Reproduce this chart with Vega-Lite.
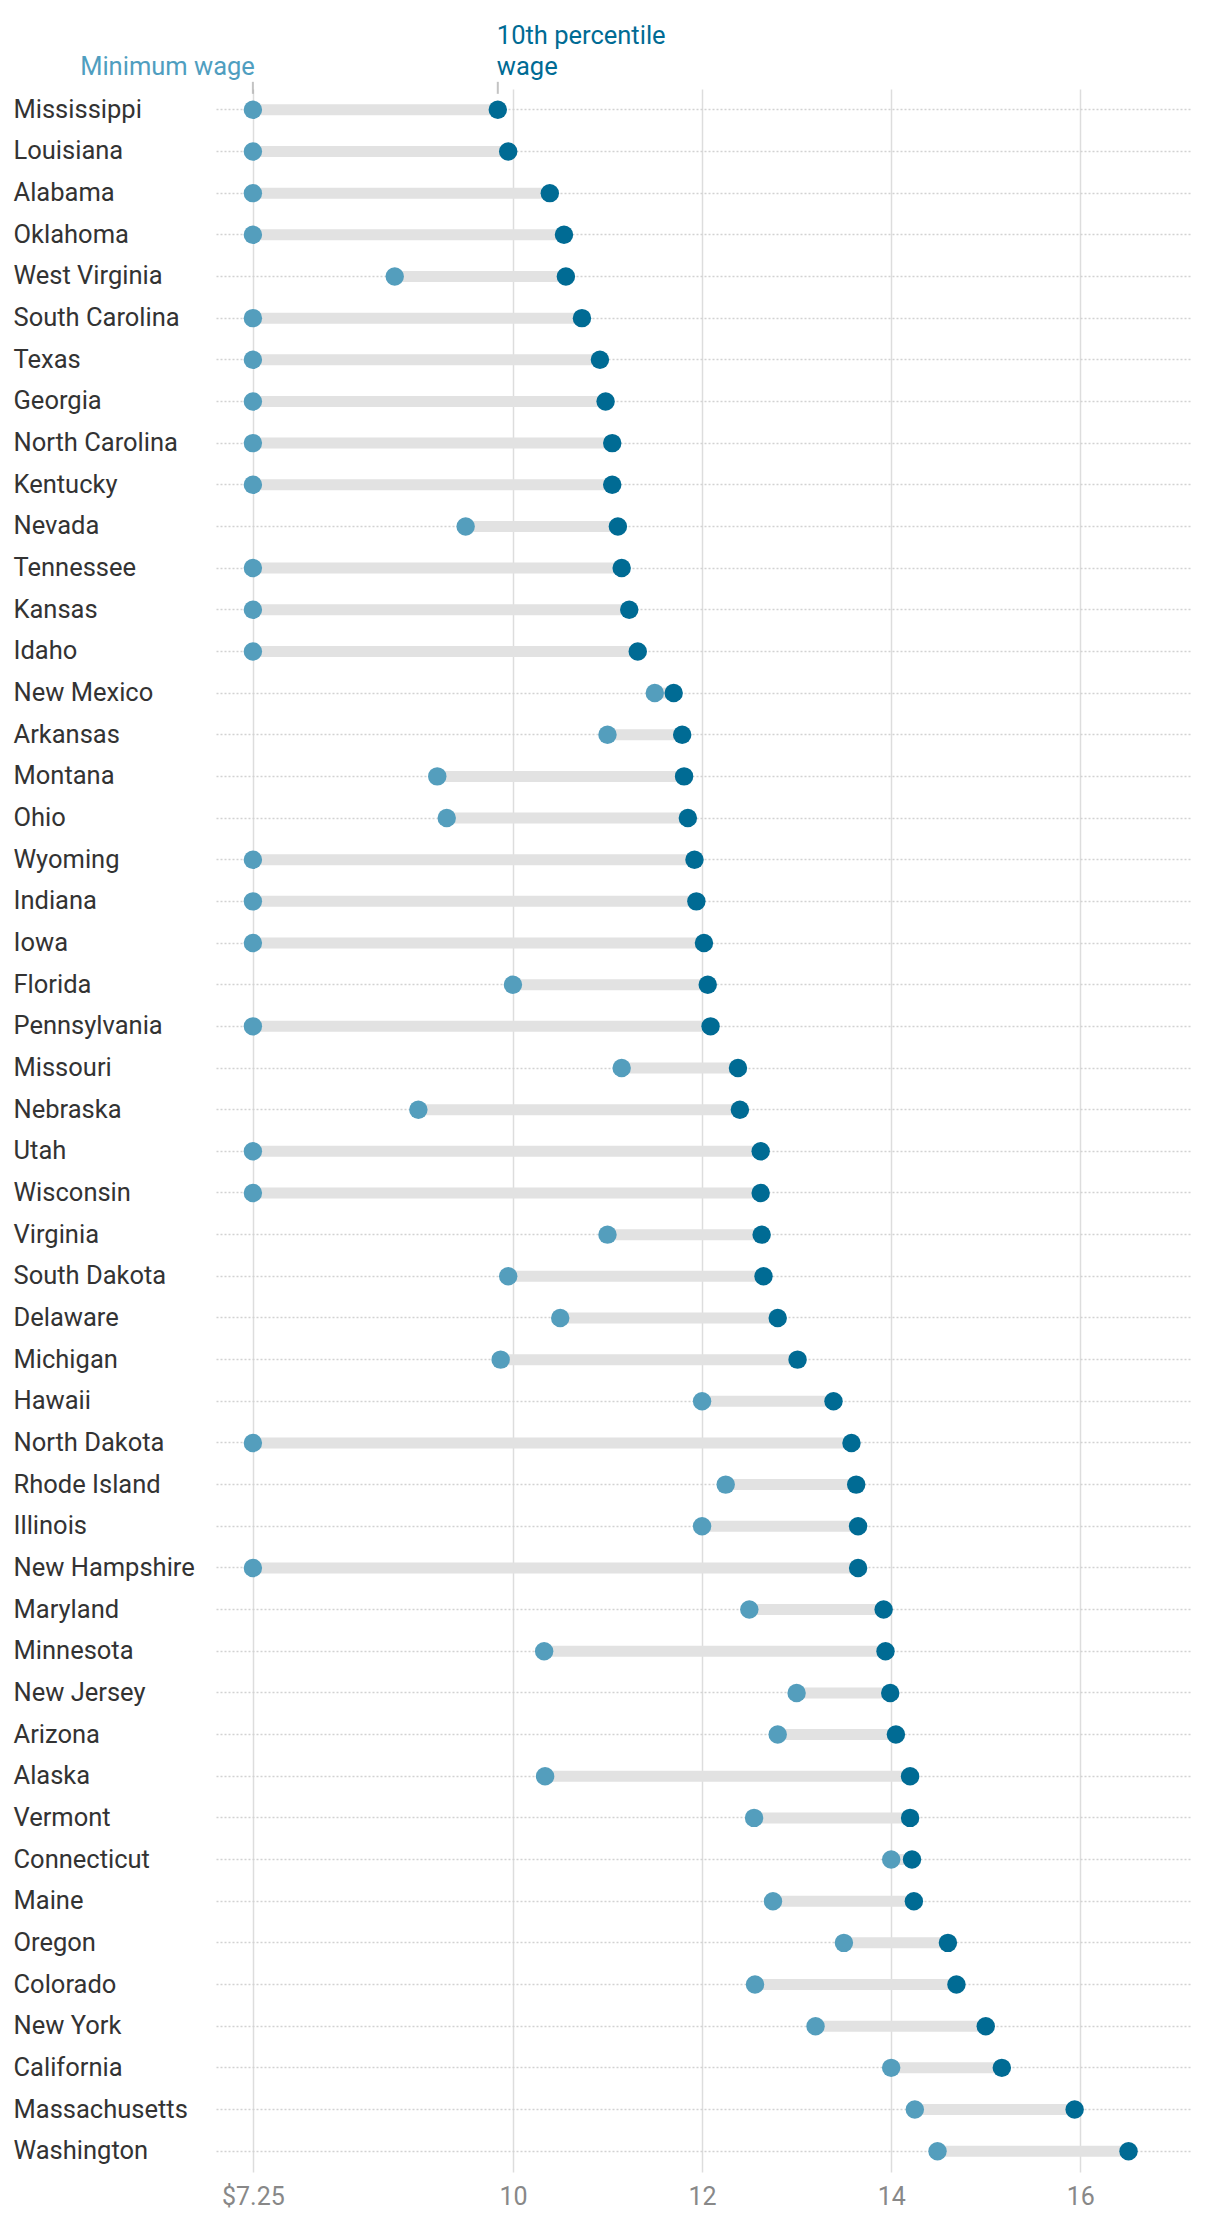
{
  "$schema": "https://vega.github.io/schema/vega-lite/v6.json",
  "width": 974,
  "height": 2083,
  "autosize": {"type": "none"},
  "padding": {"left": 216, "top": 89, "right": 30, "bottom": 44},
  "background": "white",
  "config": {"view": {"stroke": null}, "font": "Roboto"},
  "datasets": {
    "wages": [
      {"state": "Mississippi", "min": 7.25, "p10": 9.84},
      {"state": "Louisiana", "min": 7.25, "p10": 9.95},
      {"state": "Alabama", "min": 7.25, "p10": 10.39},
      {"state": "Oklahoma", "min": 7.25, "p10": 10.54},
      {"state": "West Virginia", "min": 8.75, "p10": 10.56},
      {"state": "South Carolina", "min": 7.25, "p10": 10.73},
      {"state": "Texas", "min": 7.25, "p10": 10.92},
      {"state": "Georgia", "min": 7.25, "p10": 10.98},
      {"state": "North Carolina", "min": 7.25, "p10": 11.05},
      {"state": "Kentucky", "min": 7.25, "p10": 11.05},
      {"state": "Nevada", "min": 9.5, "p10": 11.11},
      {"state": "Tennessee", "min": 7.25, "p10": 11.15},
      {"state": "Kansas", "min": 7.25, "p10": 11.23},
      {"state": "Idaho", "min": 7.25, "p10": 11.32},
      {"state": "New Mexico", "min": 11.5, "p10": 11.7},
      {"state": "Arkansas", "min": 11.0, "p10": 11.79},
      {"state": "Montana", "min": 9.2, "p10": 11.81},
      {"state": "Ohio", "min": 9.3, "p10": 11.85},
      {"state": "Wyoming", "min": 7.25, "p10": 11.92},
      {"state": "Indiana", "min": 7.25, "p10": 11.94},
      {"state": "Iowa", "min": 7.25, "p10": 12.02},
      {"state": "Florida", "min": 10.0, "p10": 12.06},
      {"state": "Pennsylvania", "min": 7.25, "p10": 12.09},
      {"state": "Missouri", "min": 11.15, "p10": 12.38},
      {"state": "Nebraska", "min": 9.0, "p10": 12.4},
      {"state": "Utah", "min": 7.25, "p10": 12.62},
      {"state": "Wisconsin", "min": 7.25, "p10": 12.62},
      {"state": "Virginia", "min": 11.0, "p10": 12.63},
      {"state": "South Dakota", "min": 9.95, "p10": 12.65},
      {"state": "Delaware", "min": 10.5, "p10": 12.8},
      {"state": "Michigan", "min": 9.87, "p10": 13.01},
      {"state": "Hawaii", "min": 12.0, "p10": 13.39},
      {"state": "North Dakota", "min": 7.25, "p10": 13.58},
      {"state": "Rhode Island", "min": 12.25, "p10": 13.63},
      {"state": "Illinois", "min": 12.0, "p10": 13.65},
      {"state": "New Hampshire", "min": 7.25, "p10": 13.65},
      {"state": "Maryland", "min": 12.5, "p10": 13.92},
      {"state": "Minnesota", "min": 10.33, "p10": 13.94},
      {"state": "New Jersey", "min": 13.0, "p10": 13.99},
      {"state": "Arizona", "min": 12.8, "p10": 14.05},
      {"state": "Alaska", "min": 10.34, "p10": 14.2},
      {"state": "Vermont", "min": 12.55, "p10": 14.2},
      {"state": "Connecticut", "min": 14.0, "p10": 14.22},
      {"state": "Maine", "min": 12.75, "p10": 14.24},
      {"state": "Oregon", "min": 13.5, "p10": 14.6},
      {"state": "Colorado", "min": 12.56, "p10": 14.69},
      {"state": "New York", "min": 13.2, "p10": 15.0},
      {"state": "California", "min": 14.0, "p10": 15.17},
      {"state": "Massachusetts", "min": 14.25, "p10": 15.94},
      {"state": "Washington", "min": 14.49, "p10": 16.51}
    ],
    "notes": [
      {"label": "Minimum wage", "x": 7.25, "state": "Mississippi", "kind": "min"},
      {"label": "10th percentile|wage", "x": 9.84, "state": "Mississippi", "kind": "p10"}
    ]
  },
  "layer": [
    {
      "data": {"name": "wages"},
      "mark": {"type": "rule", "strokeWidth": 11, "color": "#e2e2e2"},
      "encoding": {
        "y": {
          "field": "state", "type": "nominal", "sort": null,
          "scale": {"paddingInner": 0, "paddingOuter": 0},
          "axis": {
            "title": null, "domain": false, "ticks": false, "tickSize": 0,
            "labelAlign": "left", "labelPadding": 203, "labelFontSize": 25.5,
            "labelLimit": 0,
            "labelFont": "Roboto", "labelColor": "#333333",
            "grid": true, "gridColor": "#d2d2d2", "gridDash": [2, 2], "gridWidth": 1.5,
            "bandPosition": 0.5
          }
        },
        "x": {
          "field": "min", "type": "quantitative",
          "scale": {"domain": [6.86, 17.16], "nice": false, "zero": false},
          "axis": {
            "title": null, "values": [7.25, 10, 12, 14, 16],
            "labelExpr": "datum.value == 7.25 ? '$7.25' : format(datum.value, 'd')",
            "domain": false, "ticks": false, "tickSize": 0, "labelPadding": 12,
            "labelFontSize": 25, "labelFont": "Roboto", "labelColor": "#888888",
            "grid": true, "gridColor": "#dddddd", "gridWidth": 1.5
          }
        },
        "x2": {"field": "p10"}
      }
    },
    {
      "data": {"name": "wages"},
      "mark": {"type": "circle", "size": 340, "opacity": 1, "color": "#549ebd"},
      "encoding": {
        "y": {"field": "state", "type": "nominal", "sort": null},
        "x": {"field": "min", "type": "quantitative"}
      }
    },
    {
      "data": {"name": "wages"},
      "mark": {"type": "circle", "size": 340, "opacity": 1, "color": "#006b94"},
      "encoding": {
        "y": {"field": "state", "type": "nominal", "sort": null},
        "x": {"field": "p10", "type": "quantitative"}
      }
    },
    {
      "data": {"name": "notes"},
      "mark": {"type": "tick", "size": 12, "thickness": 2, "color": "#aaaaaa", "yOffset": -22},
      "encoding": {
        "y": {"field": "state", "type": "nominal", "sort": null},
        "x": {"field": "x", "type": "quantitative"}
      }
    },
    {
      "data": {"name": "notes"},
      "transform": [{"filter": "datum.kind == 'min'"}],
      "mark": {"type": "text", "align": "right", "baseline": "alphabetic", "dy": -35, "dx": 2, "fontSize": 25.5, "font": "Roboto", "color": "#4f9ec0"},
      "encoding": {
        "y": {"field": "state", "type": "nominal", "sort": null},
        "x": {"field": "x", "type": "quantitative"},
        "text": {"field": "label"}
      }
    },
    {
      "data": {"name": "notes"},
      "transform": [{"filter": "datum.kind == 'p10'"}],
      "mark": {"type": "text", "align": "left", "baseline": "alphabetic", "dy": -66, "dx": -1, "fontSize": 25.5, "lineHeight": 31, "lineBreak": "|", "font": "Roboto", "color": "#006b94"},
      "encoding": {
        "y": {"field": "state", "type": "nominal", "sort": null},
        "x": {"field": "x", "type": "quantitative"},
        "text": {"field": "label"}
      }
    }
  ]
}
